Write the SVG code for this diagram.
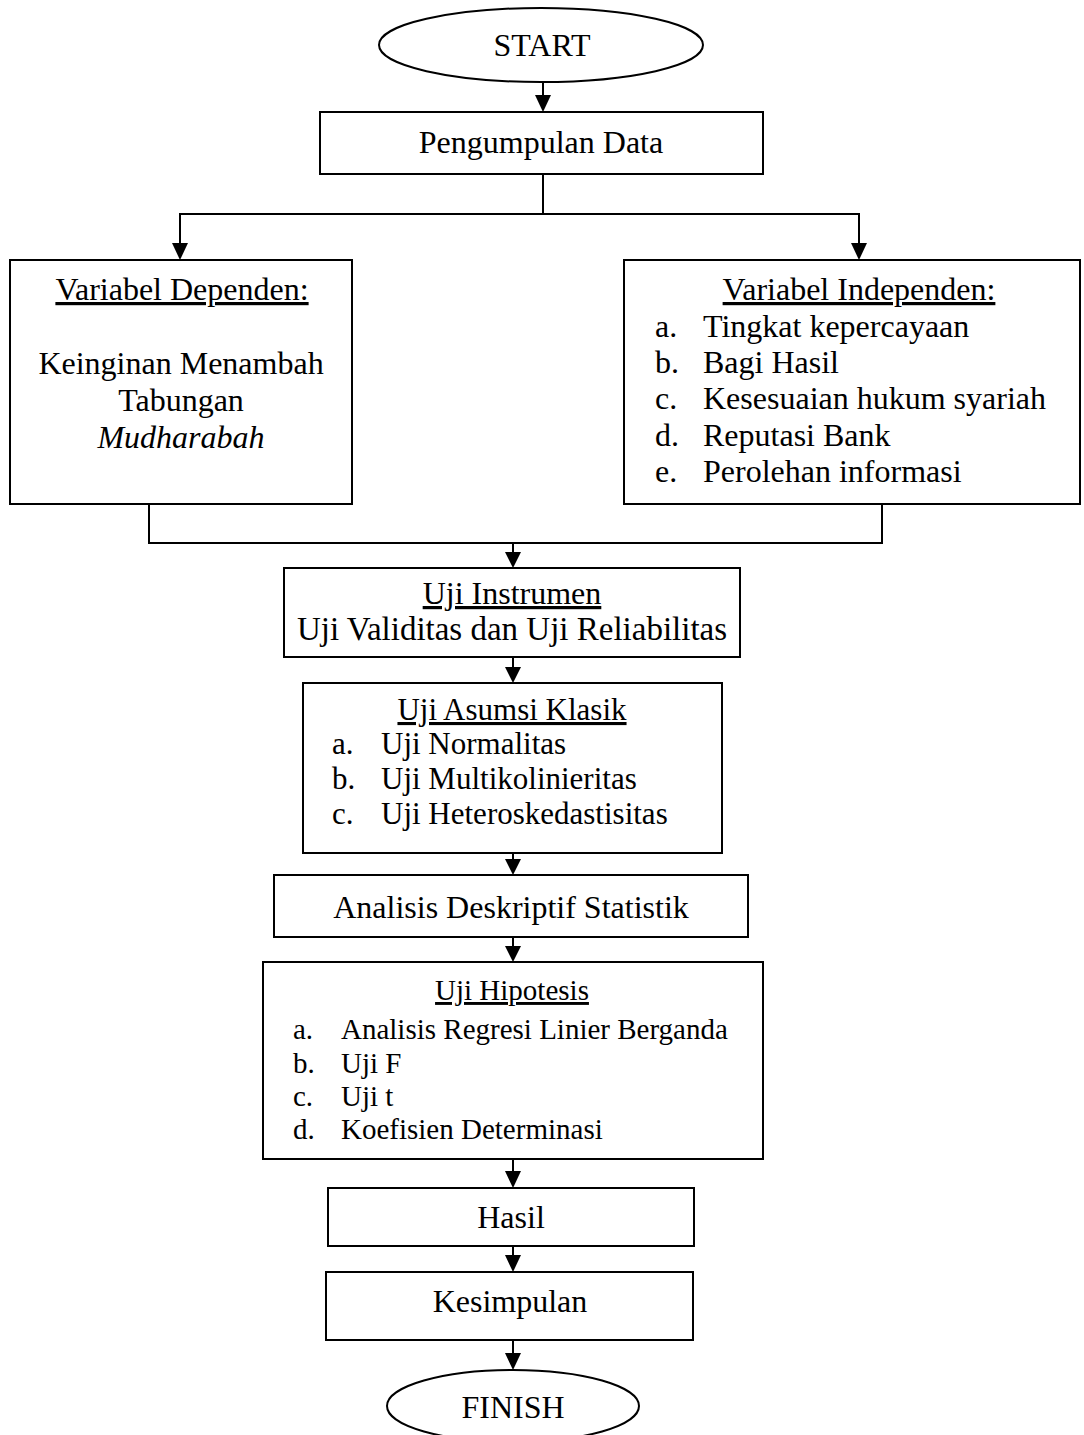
<svg xmlns="http://www.w3.org/2000/svg" width="1084" height="1435" viewBox="0 0 1084 1435">
<style>
.box{fill:#fff;stroke:#000;stroke-width:2}
.ln{fill:none;stroke:#000;stroke-width:2}
text{font-family:"Liberation Serif","Times New Roman",serif;font-size:32px;fill:#000}
.c{text-anchor:middle}
.u{text-decoration:underline}
.i{font-style:italic}
.s31{font-size:31px}
.s29{font-size:29px}
.s33{font-size:33px}
</style>
<rect width="1084" height="1435" fill="#fff"/>
<g id="connectors">
<line class="ln" x1="543" y1="82" x2="543" y2="96"/>
<path d="M535,95 L551,95 L543,112 Z"/>
<line class="ln" x1="543" y1="174" x2="543" y2="214"/>
<polyline class="ln" points="180,244 180,214 859,214 859,244"/>
<path d="M172,243 L188,243 L180,260 Z"/>
<path d="M851,243 L867,243 L859,260 Z"/>
<polyline class="ln" points="149,504 149,543 882,543 882,504"/>
<line class="ln" x1="513" y1="543" x2="513" y2="553"/>
<path d="M505,552 L521,552 L513,568 Z"/>
<line class="ln" x1="513" y1="657" x2="513" y2="668"/>
<path d="M505,667 L521,667 L513,683 Z"/>
<line class="ln" x1="513" y1="853" x2="513" y2="860"/>
<path d="M505,859 L521,859 L513,875 Z"/>
<line class="ln" x1="513" y1="937" x2="513" y2="947"/>
<path d="M505,946 L521,946 L513,962 Z"/>
<line class="ln" x1="513" y1="1159" x2="513" y2="1172"/>
<path d="M505,1171 L521,1171 L513,1188 Z"/>
<line class="ln" x1="513" y1="1246" x2="513" y2="1256"/>
<path d="M505,1255 L521,1255 L513,1272 Z"/>
<line class="ln" x1="513" y1="1340" x2="513" y2="1354"/>
<path d="M505,1353 L521,1353 L513,1370 Z"/>
</g>
<g id="start">
<ellipse class="box" cx="541" cy="45" rx="162" ry="37"/>
<text class="c" x="542" y="56">START</text>
</g>
<g id="pengumpulan">
<rect class="box" x="320" y="112" width="443" height="62"/>
<text class="c" x="541" y="153">Pengumpulan Data</text>
</g>
<g id="dependen">
<rect class="box" x="10" y="260" width="342" height="244"/>
<text class="c u" x="182" y="300">Variabel Dependen:</text>
<text class="c" x="181" y="374">Keinginan Menambah</text>
<text class="c" x="181" y="411">Tabungan</text>
<text class="c i" x="181" y="448">Mudharabah</text>
</g>
<g id="independen">
<rect class="box" x="624" y="260" width="456" height="244"/>
<text class="c u" x="859" y="300">Variabel Independen:</text>
<text x="655" y="337">a.</text><text x="703" y="337">Tingkat kepercayaan</text>
<text x="655" y="373">b.</text><text x="703" y="373">Bagi Hasil</text>
<text x="655" y="409">c.</text><text x="703" y="409">Kesesuaian hukum syariah</text>
<text x="655" y="446">d.</text><text x="703" y="446">Reputasi Bank</text>
<text x="655" y="482">e.</text><text x="703" y="482">Perolehan informasi</text>
</g>
<g id="instrumen">
<rect class="box" x="284" y="568" width="456" height="89"/>
<text class="c u" x="512" y="604">Uji Instrumen</text>
<text class="c s33" x="512" y="640">Uji Validitas dan Uji Reliabilitas</text>
</g>
<g id="asumsi">
<rect class="box" x="303" y="683" width="419" height="170"/>
<text class="c u s31" x="512" y="720">Uji Asumsi Klasik</text>
<text class="s31" x="332" y="754">a.</text><text class="s31" x="381" y="754">Uji Normalitas</text>
<text class="s31" x="332" y="789">b.</text><text class="s31" x="381" y="789">Uji Multikolinieritas</text>
<text class="s31" x="332" y="824">c.</text><text class="s31" x="381" y="824">Uji Heteroskedastisitas</text>
</g>
<g id="deskriptif">
<rect class="box" x="274" y="875" width="474" height="62"/>
<text class="c" x="511" y="918">Analisis Deskriptif Statistik</text>
</g>
<g id="hipotesis">
<rect class="box" x="263" y="962" width="500" height="197"/>
<text class="c u s29" x="512" y="1000">Uji Hipotesis</text>
<text class="s29" x="293" y="1039">a.</text><text class="s29" x="341" y="1039">Analisis Regresi Linier Berganda</text>
<text class="s29" x="293" y="1073">b.</text><text class="s29" x="341" y="1073">Uji F</text>
<text class="s29" x="293" y="1106">c.</text><text class="s29" x="341" y="1106">Uji t</text>
<text class="s29" x="293" y="1139">d.</text><text class="s29" x="341" y="1139">Koefisien Determinasi</text>
</g>
<g id="hasil">
<rect class="box" x="328" y="1188" width="366" height="58"/>
<text class="c" x="511" y="1228">Hasil</text>
</g>
<g id="kesimpulan">
<rect class="box" x="326" y="1272" width="367" height="68"/>
<text class="c" x="510" y="1312">Kesimpulan</text>
</g>
<g id="finish">
<ellipse class="box" cx="513" cy="1406" rx="126" ry="36"/>
<text class="c" x="513" y="1418">FINISH</text>
</g>
</svg>
